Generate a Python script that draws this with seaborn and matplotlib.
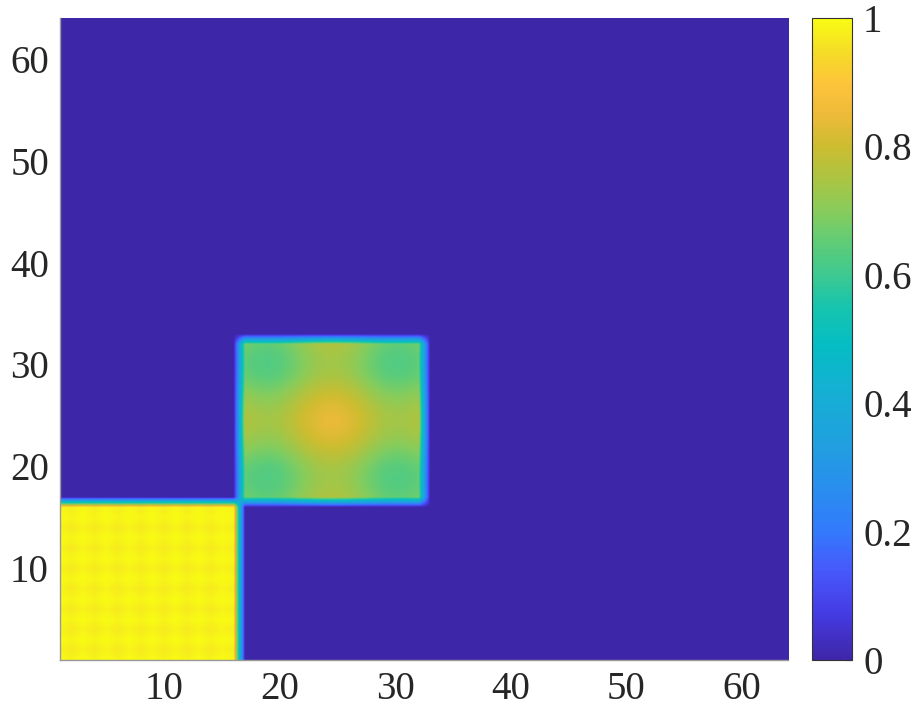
import numpy as np
import seaborn as sns
import matplotlib.pyplot as plt
from matplotlib.colors import LinearSegmentedColormap

# ---------------------------- data ------------------------------------------
n = 64
# block 1 (rows/cols 1..16) : row profile, nearly 1 with faint ripple
block1_profile = [1.00, 0.97, 1.00, 0.97, 1.00, 0.97, 1.00, 0.97,
                  1.00, 0.97, 1.00, 0.97, 1.00, 0.97, 1.00, 0.98]
# block 2 (rows/cols 17..32) : row profile, peak in the middle
block2_profile = [0.67, 0.64, 0.63, 0.65, 0.70, 0.76, 0.81, 0.84,
                  0.84, 0.81, 0.76, 0.70, 0.65, 0.63, 0.64, 0.67]
block_starts = [1, 17]

tick_vals = [10, 20, 30, 40, 50, 60]
cbar_ticks = [0, 0.2, 0.4, 0.6, 0.8, 1]
cbar_labels = ['0', '0.2', '0.4', '0.6', '0.8', '1']

# parula-like colour stops
parula_pos = [0.00, 0.07, 0.14, 0.20, 0.27, 0.33, 0.42, 0.49, 0.55,
              0.60, 0.65, 0.70, 0.75, 0.80, 0.85, 0.90, 0.95, 1.00]
parula_colors = [
    (0.2422, 0.1504, 0.6603), (0.2700, 0.2300, 0.8900), (0.2780, 0.3500, 0.9900),
    (0.2000, 0.4800, 0.9900), (0.1600, 0.5600, 0.9300), (0.1300, 0.6200, 0.8800),
    (0.0800, 0.6900, 0.8300), (0.0200, 0.7400, 0.7700), (0.0900, 0.7700, 0.6800),
    (0.2400, 0.7900, 0.5700), (0.3700, 0.8000, 0.4700), (0.5300, 0.8000, 0.3600),
    (0.6700, 0.7700, 0.2600), (0.8000, 0.7400, 0.1900), (0.9300, 0.7300, 0.2200),
    (0.9900, 0.7700, 0.2300), (0.9600, 0.8700, 0.1500), (0.9769, 0.9839, 0.0805),
]

# ---------------------------- build matrix ----------------------------------
Z = np.zeros((n, n))
for start, prof in zip(block_starts, [block1_profile, block2_profile]):
    p = np.array(prof)
    blk = (p[:, None] + p[None, :]) / 2
    s = start - 1
    Z[s:s + len(p), s:s + len(p)] = blk

sns.set_theme(style='white')
plt.rcParams['font.family'] = ['Liberation Serif', 'DejaVu Serif']
parula = LinearSegmentedColormap.from_list('parula', list(zip(parula_pos, parula_colors)), N=256)

fig = plt.figure(figsize=(9.13, 7.18), dpi=100)
ax = fig.add_axes([60 / 913, 58 / 718, 728 / 913, 642 / 718])
cax = fig.add_axes([812 / 913, 58 / 718, 40 / 913, 642 / 718])

# interpolate in data space (like shading interp), then colour-map
img = ax.imshow(Z, origin='lower', extent=(0.5, n + 0.5, 0.5, n + 0.5),
                cmap=parula, vmin=0, vmax=1, aspect='auto',
                interpolation='bilinear', interpolation_stage='data')
ax.set_xlim(1, n)
ax.set_ylim(1, n)
ax.set_xticks(tick_vals)
ax.set_yticks(tick_vals)
ax.tick_params(labelsize=28, length=0, pad=8)
for side in ['top', 'right']:
    ax.spines[side].set_visible(False)
for side in ['left', 'bottom']:
    ax.spines[side].set_color('#999999')
    ax.spines[side].set_linewidth(1)

cb = fig.colorbar(img, cax=cax)
cb.set_ticks(cbar_ticks)
cb.set_ticklabels(cbar_labels)
cb.outline.set_edgecolor('#333333')
cb.outline.set_linewidth(0.8)
cax.tick_params(labelsize=28, direction='in', length=5, width=0.8,
                color='#333333', pad=8)

fig.savefig('out.png', dpi=100)
